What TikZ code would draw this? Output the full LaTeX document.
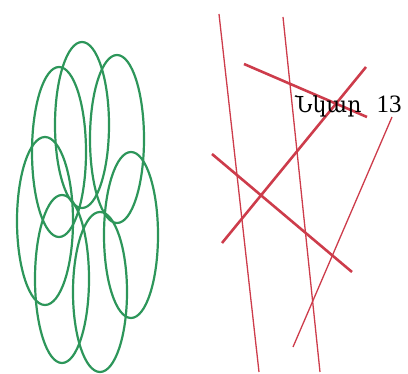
\documentclass[tikz,border=0pt]{standalone}
\usepackage{fontspec}
\usetikzlibrary{positioning}
\newfontfamily\armfont{DejaVu Serif}
\newfontfamily\numfont{Liberation Serif}
\definecolor{ringcolor}{RGB}{45,150,90}
\definecolor{stickcolor}{RGB}{205,60,75}

\begin{document}
\begin{tikzpicture}[x=1pt, y=-1pt,
    ring/.style={draw=ringcolor, line width=2.2pt},
    thinstick/.style={draw=stickcolor, line width=1.3pt},
    thickstick/.style={draw=stickcolor, line width=2.6pt}]
  \useasboundingbox (0,0) rectangle (408,374);

  % green ellipses
  \draw[ring] (82,125) ellipse [x radius=27, y radius=83];
  \draw[ring] (59,152) ellipse [x radius=27, y radius=85];
  \draw[ring] (117,139) ellipse [x radius=27, y radius=84];
  \draw[ring] (45,221) ellipse [x radius=28, y radius=84];
  \draw[ring] (131,235) ellipse [x radius=27, y radius=83];
  \draw[ring] (62,279) ellipse [x radius=27, y radius=84];
  \draw[ring] (100,292) ellipse [x radius=27, y radius=80];

  % red sticks
  \draw[thinstick] (219,14) -- (259,372);
  \draw[thinstick] (283,17) -- (320,372);
  \draw[thickstick] (244,64) -- (367,117);
  \draw[thickstick] (366,67) -- (222,243);
  \draw[thickstick] (212,154) -- (352,272);
  \draw[thinstick] (392,117) -- (293,347);

  \node[anchor=base west, inner sep=0pt] (caption) at (295,113)
       {{\armfont\fontsize{22}{26}\selectfont Նկար}\hspace{15pt}{\numfont\fontsize{25}{30}\selectfont 13}};
\end{tikzpicture}
\end{document}
